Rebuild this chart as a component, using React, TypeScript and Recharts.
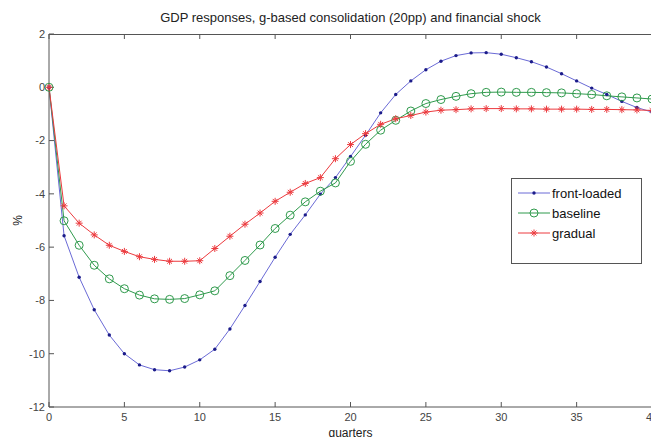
import React from 'react';
import { LineChart, Line, XAxis, YAxis, Legend } from 'recharts';

// quarters after the shock
const quarters = [
  0, 1, 2, 3, 4, 5, 6, 7, 8, 9, 10, 11, 12, 13, 14, 15, 16, 17, 18, 19, 20,
  21, 22, 23, 24, 25, 26, 27, 28, 29, 30, 31, 32, 33, 34, 35, 36, 37, 38, 39, 40,
];

const frontLoaded = [
  0, -5.57, -7.13, -8.35, -9.3, -10.0, -10.42, -10.6, -10.64, -10.5, -10.23,
  -9.83, -9.07, -8.19, -7.29, -6.38, -5.52, -4.79, -4.01, -3.39, -2.6,
  -1.8, -0.96, -0.27, 0.24, 0.66, 0.98, 1.19, 1.29, 1.3, 1.24,
  1.11, 0.96, 0.76, 0.51, 0.24, -0.03, -0.27, -0.53, -0.76, -0.93,
];

const baseline = [
  0, -5.01, -5.93, -6.68, -7.19, -7.56, -7.8, -7.94, -7.96, -7.93, -7.79,
  -7.64, -7.07, -6.5, -5.92, -5.3, -4.8, -4.3, -3.9, -3.59, -2.78,
  -2.14, -1.61, -1.24, -0.89, -0.61, -0.46, -0.34, -0.24, -0.19, -0.18,
  -0.19, -0.19, -0.2, -0.21, -0.24, -0.27, -0.32, -0.36, -0.4, -0.44,
];

const gradual = [
  0, -4.45, -5.1, -5.54, -5.93, -6.16, -6.36, -6.46, -6.53, -6.53, -6.51,
  -6.05, -5.59, -5.14, -4.72, -4.28, -3.94, -3.61, -3.39, -2.68, -2.15,
  -1.74, -1.39, -1.18, -1.06, -0.93, -0.86, -0.84, -0.81, -0.8, -0.8,
  -0.81, -0.81, -0.82, -0.82, -0.82, -0.83, -0.83, -0.84, -0.85, -0.87,
];

const xTicks = [0, 5, 10, 15, 20, 25, 30, 35, 40];
const yTicks = [-12, -10, -8, -6, -4, -2, 0, 2];

const data = quarters.map((q, i) => ({
  q,
  front: frontLoaded[i],
  base: baseline[i],
  grad: gradual[i],
}));

/* ── colours / geometry ──────────────────────── */
const BLUE_LINE = '#6a6ad6';
const BLUE_DOT = '#1c1c8a';
const GREEN = '#2f9a4c';
const RED = '#ec3a3e';
const AXIS = '#555';
const FONT = '"Liberation Sans", Arial, sans-serif';
const PLOT_LEFT = 49;
const PLOT_TOP = 34;
const PLOT_W = 603;

/* ── markers ─────────────────────────────────── */
function Dot({ cx, cy }: any) {
  if (cx == null || cy == null) return <g />;
  return <circle cx={cx} cy={cy} r={1.7} fill={BLUE_DOT} />;
}

function Ring({ cx, cy }: any) {
  if (cx == null || cy == null) return <g />;
  return <circle cx={cx} cy={cy} r={4} fill="none" stroke={GREEN} strokeWidth={1} />;
}

function Star({ cx, cy }: any) {
  if (cx == null || cy == null) return <g />;
  const s = 3.5, d = 2.4;
  return (
    <g stroke={RED} strokeWidth={1}>
      <line x1={cx - s} y1={cy} x2={cx + s} y2={cy} />
      <line x1={cx} y1={cy - s} x2={cx} y2={cy + s} />
      <line x1={cx - d} y1={cy - d} x2={cx + d} y2={cy + d} />
      <line x1={cx - d} y1={cy + d} x2={cx + d} y2={cy - d} />
    </g>
  );
}

const legendItems = [
  { name: 'front-loaded', color: BLUE_LINE, Marker: Dot },
  { name: 'baseline', color: GREEN, Marker: Ring },
  { name: 'gradual', color: RED, Marker: Star },
];

function LegendBox() {
  return (
    <div style={{ width: 129, height: 80, border: `1px solid ${AXIS}`, background: '#fff', boxSizing: 'content-box', paddingTop: 4 }}>
      {legendItems.map(({ name, color, Marker }) => (
        <div key={name} style={{ display: 'flex', alignItems: 'center', height: 20 }}>
          <svg width={40} height={20} style={{ flexShrink: 0 }}>
            <line x1={6} y1={10} x2={38} y2={10} stroke={color} strokeWidth={1} />
            <Marker cx={22} cy={10} />
          </svg>
          <span style={{ fontFamily: FONT, fontSize: 13, color: '#111' }}>{name}</span>
        </div>
      ))}
    </div>
  );
}

// top edge of the axes box (MATLAB style frame with inward ticks)
function TopFrame() {
  return (
    <svg width={PLOT_W + 2} height={8} style={{ position: 'absolute', left: PLOT_LEFT - 1, top: PLOT_TOP - 1, pointerEvents: 'none' }}>
      <line x1={1} y1={1.5} x2={PLOT_W + 1} y2={1.5} stroke={AXIS} strokeWidth={1} />
      {xTicks.map(t => {
        const x = 1 + (t / 40) * PLOT_W;
        return <line key={t} x1={x} y1={1} x2={x} y2={6} stroke={AXIS} strokeWidth={1} />;
      })}
    </svg>
  );
}

const tick = { fontSize: 11, fill: '#444', fontFamily: FONT };

export default function App() {
  return (
    <div style={{ position: 'absolute', left: 0, top: 0, width: 651, height: 437, overflow: 'hidden', background: '#fff' }}>
      <div style={{ position: 'absolute', top: 10, left: PLOT_LEFT, width: PLOT_W, textAlign: 'center', fontFamily: FONT, fontSize: 13, color: '#222' }}>
        GDP responses, g-based consolidation (20pp) and financial shock
      </div>
      <LineChart width={660} height={437} data={data} margin={{ top: PLOT_TOP, right: 0, left: 0, bottom: 0 }}>
        <XAxis dataKey="q" type="number" domain={[0, 40]} ticks={xTicks} interval={0}
          height={30} tick={tick} stroke={AXIS} tickSize={-5} tickMargin={11}
          label={{ value: 'quarters', position: 'insideBottom', offset: 0, fontSize: 12, fill: '#222', fontFamily: FONT }} />
        <YAxis type="number" domain={[-12, 2]} ticks={yTicks} interval={0} width={PLOT_LEFT}
          tick={tick} stroke={AXIS} tickSize={-5} tickMargin={9}
          label={{ value: '%', angle: -90, position: 'center', dx: -7, fontSize: 12, fill: '#222', fontFamily: FONT }} />
        <YAxis yAxisId="right" type="number" domain={[-12, 2]} ticks={yTicks} interval={0} orientation="right" width={8}
          stroke={AXIS} tickSize={-5} tick={false} />
        <Legend layout="vertical" align="center" verticalAlign="middle" content={<LegendBox />}
          wrapperStyle={{ left: 511, top: 178, width: 131, height: 86 }} />
        <Line name="front-loaded" dataKey="front" type="linear" stroke={BLUE_LINE} strokeWidth={1}
          dot={<Dot />} activeDot={false} isAnimationActive={false} />
        <Line yAxisId="right" name="baseline" dataKey="base" type="linear" stroke={GREEN} strokeWidth={1}
          dot={<Ring />} activeDot={false} isAnimationActive={false} />
        <Line name="gradual" dataKey="grad" type="linear" stroke={RED} strokeWidth={1}
          dot={<Star />} activeDot={false} isAnimationActive={false} />
      </LineChart>
      <TopFrame />
    </div>
  );
}
